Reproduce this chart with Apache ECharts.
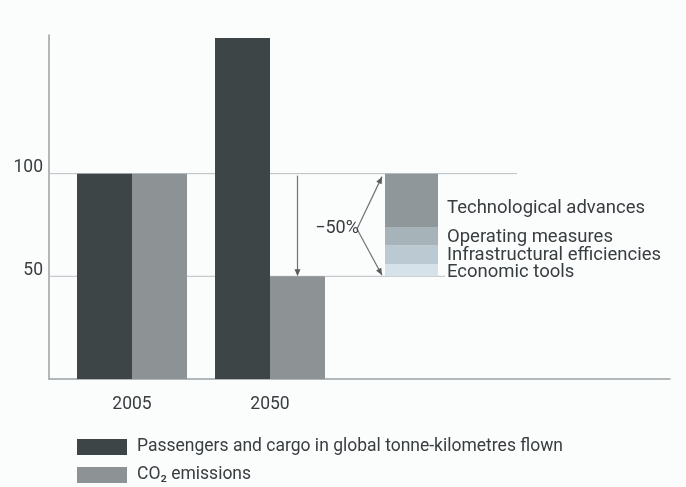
<!DOCTYPE html>
<html>
<head>
<meta charset="utf-8">
<script src="https://cdn.jsdelivr.net/npm/echarts@6/dist/echarts.min.js"></script>
<style>
html,body{margin:0;padding:0;background:#fbfcfc;}
#chart{width:686px;height:487px;}
</style>
</head>
<body>
<div id="chart"></div>
<script>
const categories = ['2005', '2050'];
const trafficValues = [100, 166];
const co2Values = [100, 50];
const measureBase = [50];
const measureNames = ['Economic tools', 'Infrastructural efficiencies', 'Operating measures', 'Technological advances'];
const measureValues = [6, 9, 9, 26];
const measureColors = ['#d6e2ea', '#bbc9d2', '#a6b3b8', '#8f979a'];
const yTickLabels = [50, 100];
const legendNames = ['Passengers and cargo in global tonne-kilometres flown', 'CO\u2082 emissions'];
const reductionLabel = '\u221250%';

const FONT = 'Roboto';
const TEXT = '#383d40';
const AXIS = '#9aa1a4';
const YMAX = 167.5;

const chart = echarts.init(document.getElementById('chart'));

const series = [
  {
    name: legendNames[0], type: 'bar', xAxisIndex: 1, yAxisIndex: 1,
    data: trafficValues, barWidth: 55, barGap: '0%',
    itemStyle: { color: '#3e4547' }, silent: true
  },
  {
    name: legendNames[1], type: 'bar', xAxisIndex: 1, yAxisIndex: 1,
    data: co2Values, barWidth: 55, barGap: '0%',
    itemStyle: { color: '#8d9395' }, silent: true
  },
  {
    name: 'base', type: 'bar', xAxisIndex: 2, yAxisIndex: 2, stack: 'm',
    data: measureBase, barWidth: '100%',
    itemStyle: { color: 'rgba(0,0,0,0)' }, silent: true
  }
];
measureNames.forEach((n, i) => {
  series.push({
    name: n, type: 'bar', xAxisIndex: 2, yAxisIndex: 2, stack: 'm',
    data: [measureValues[i]], barWidth: '100%',
    itemStyle: { color: measureColors[i] }, silent: true,
    label: {
      show: true, position: 'right', distance: 9, formatter: n,
      fontFamily: FONT, fontSize: 18.5, color: TEXT,
      offset: i === 3 ? [0, 8] : (i === 0 ? [0, 2] : [0, 1])
    }
  });
});

chart.setOption({
  backgroundColor: '#fbfcfc',
  animation: false,
  textStyle: { fontFamily: FONT },
  grid: [
    { left: 49, right: 16, top: 35, bottom: 108 },
    { left: 63, width: 276, top: 35, bottom: 108 },
    { left: 385, width: 53, top: 35, bottom: 108 }
  ],
  xAxis: [
    { gridIndex: 0, type: 'category', data: [''],
      axisLine: { show: true, lineStyle: { color: AXIS, width: 1.5 } },
      axisTick: { show: false }, axisLabel: { show: false }, splitLine: { show: false } },
    { gridIndex: 1, type: 'category', data: categories,
      axisLine: { show: false }, axisTick: { show: false },
      axisLabel: { fontFamily: FONT, fontSize: 17.5, color: TEXT, margin: 17 } },
    { gridIndex: 2, type: 'category', data: ['m'], show: false }
  ],
  yAxis: [
    { gridIndex: 0, type: 'value', min: 0, max: YMAX, interval: 50,
      axisLine: { show: true, lineStyle: { color: AXIS, width: 1.5 } },
      axisTick: { show: false }, splitLine: { show: false },
      axisLabel: {
        fontFamily: FONT, fontSize: 17.5, color: TEXT, margin: 6,
        verticalAlign: 'bottom', lineHeight: 12,
        formatter: v => (yTickLabels.indexOf(v) >= 0 ? String(v) : '')
      } },
    { gridIndex: 1, type: 'value', min: 0, max: YMAX, show: false },
    { gridIndex: 2, type: 'value', min: 0, max: YMAX, show: false }
  ],
  legend: {
    data: legendNames, orient: 'vertical', left: 77, top: 438, padding: 0,
    itemWidth: 50, itemHeight: 16, itemGap: 10, icon: 'rect',
    selectedMode: false,
    textStyle: { fontFamily: FONT, fontSize: 17.5, lineHeight: 16, color: TEXT, padding: [0, 0, 0, 5] }
  },
  series: series
});

// Annotations positioned from the axes' scales
const y100 = chart.convertToPixel({ yAxisIndex: 0 }, yTickLabels[1]);
const y50 = chart.convertToPixel({ yAxisIndex: 0 }, yTickLabels[0]);
const axisLeft = chart.getModel().getComponent('grid', 0).coordinateSystem.getRect().x;
const stackRect = chart.getModel().getComponent('grid', 2).coordinateSystem.getRect();
const x2050 = chart.convertToPixel({ xAxisIndex: 1 }, categories[1]);
const arrowX = x2050 + 27.5;
const stackLeft = stackRect.x;
const stackRight = stackRect.x + stackRect.width;

function arrowHead(tipX, tipY, fromX, fromY, len, half) {
  const dx = tipX - fromX, dy = tipY - fromY;
  const d = Math.sqrt(dx * dx + dy * dy);
  const ux = dx / d, uy = dy / d;
  const bx = tipX - ux * len, by = tipY - uy * len;
  return {
    type: 'polygon', silent: true,
    shape: { points: [[tipX, tipY], [bx - uy * half, by + ux * half], [bx + uy * half, by - ux * half]] },
    style: { fill: '#555b5e' }
  };
}

const apexX = stackLeft - 28, apexY = (y100 + y50) / 2 + 4;
const tipX = stackLeft - 3;
const LINE = { stroke: '#6d7376', lineWidth: 1.2 };

chart.setOption({
  graphic: [
    { type: 'line', silent: true, z: 1, shape: { x1: axisLeft, y1: y100, x2: stackRight + 79, y2: y100 }, style: { stroke: '#b9bfc2', lineWidth: 1 } },
    { type: 'line', silent: true, z: 1, shape: { x1: axisLeft, y1: y50, x2: stackRight + 7, y2: y50 }, style: { stroke: '#b9bfc2', lineWidth: 1 } },
    { type: 'line', silent: true, shape: { x1: arrowX, y1: y100 + 2, x2: arrowX, y2: y50 - 6 }, style: LINE },
    arrowHead(arrowX, y50, arrowX, y100, 7, 3),
    { type: 'line', silent: true, shape: { x1: apexX, y1: apexY, x2: tipX, y2: y100 + 3 }, style: LINE },
    arrowHead(tipX, y100 + 3, apexX, apexY, 7, 3),
    { type: 'line', silent: true, shape: { x1: apexX, y1: apexY, x2: tipX, y2: y50 - 1 }, style: LINE },
    arrowHead(tipX, y50 - 1, apexX, apexY, 7, 3),
    { type: 'text', silent: true, z: 10, x: apexX - 20, y: apexY,
      style: { text: reductionLabel, fontFamily: FONT, fontSize: 18, fill: TEXT, align: 'center', verticalAlign: 'middle' } }
  ]
});
</script>
</body>
</html>
